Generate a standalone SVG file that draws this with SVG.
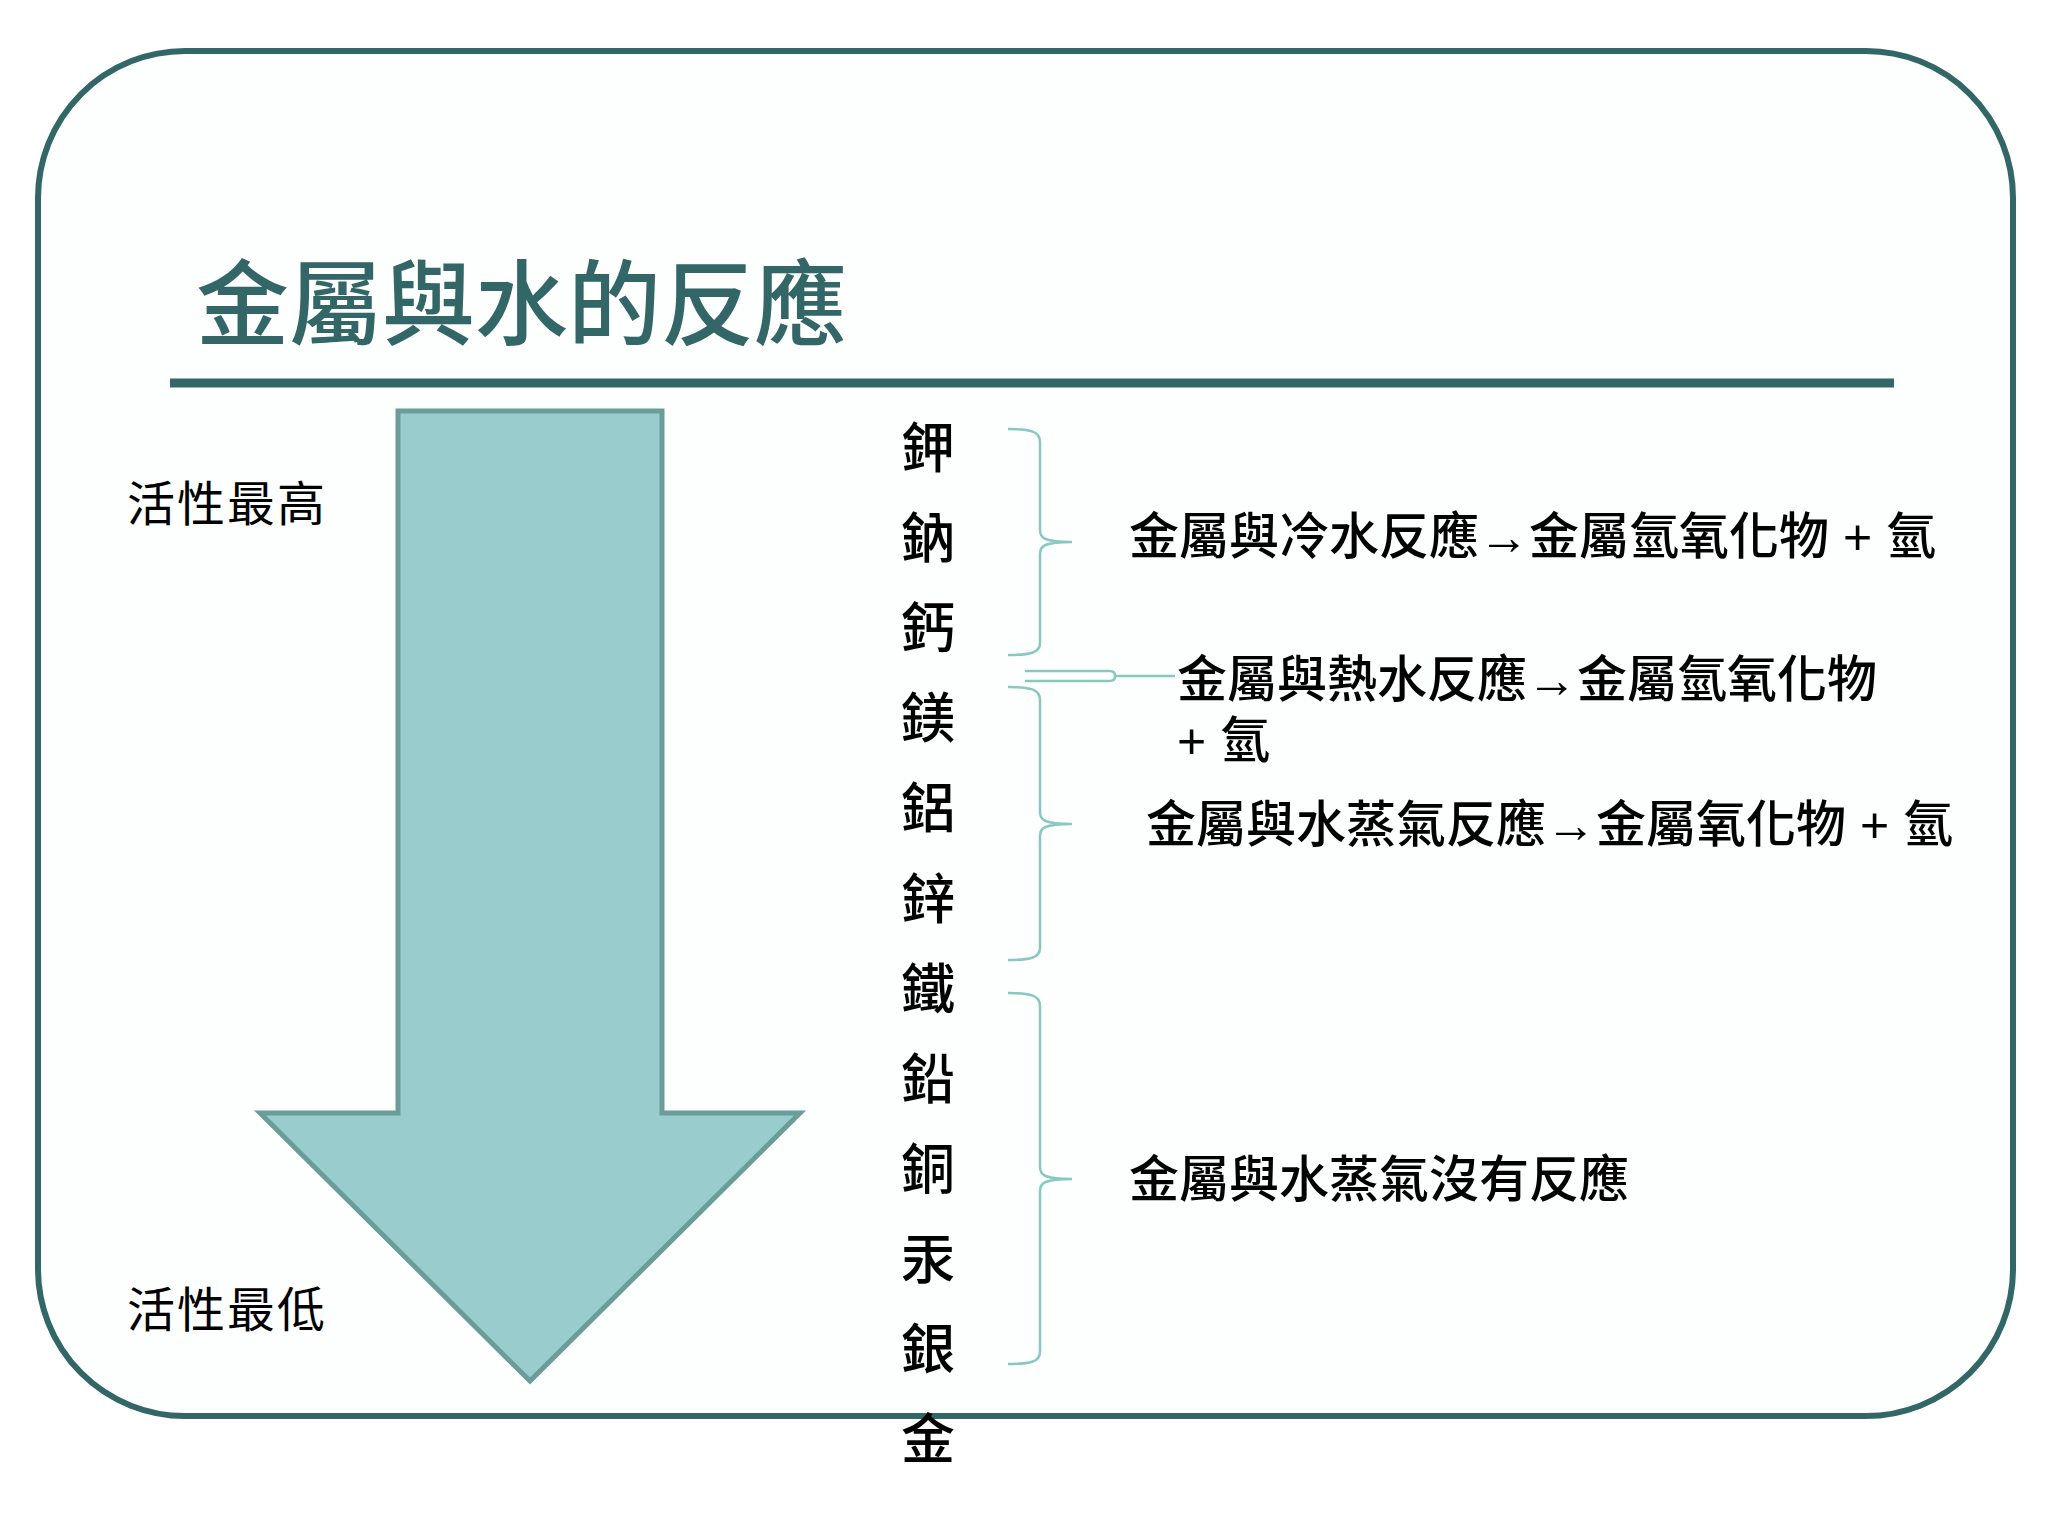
<svg xmlns="http://www.w3.org/2000/svg" width="2048" height="1536" viewBox="0 0 2048 1536">
  <defs>
    <style>
      .frame { fill: #fdfefe; stroke: #336666; stroke-width: 6; }
      .rule { stroke: #336666; stroke-width: 9; }
      .title { font-family: "Noto Sans CJK TC", "Noto Sans CJK SC", sans-serif; font-size: 93px; font-weight: 500; fill: #336666; }
      .label { font-family: "Noto Sans CJK TC", sans-serif; font-size: 48px; fill: #000; letter-spacing: 2px; }
      .metal { font-family: "Noto Sans CJK TC", sans-serif; font-size: 54px; font-weight: 500; fill: #000; text-anchor: middle; }
      .desc { font-family: "Liberation Sans", "Noto Sans CJK TC", sans-serif; font-size: 50px; font-weight: 500; fill: #000; }
      .brace { fill: none; stroke: #88c8c0; stroke-width: 2.5; }
      .arrow { fill: #99cccc; stroke: #6a9c99; stroke-width: 5; }
    </style>
  </defs>
  <rect width="2048" height="1536" fill="#ffffff"/>
  <g id="frame">
    <rect class="frame" x="38" y="51" width="1975" height="1365" rx="147" ry="147"/>
  </g>
  <g id="title">
    <text class="title" x="196" y="338">金屬與水的反應</text>
    <line class="rule" x1="170" y1="383" x2="1894" y2="383"/>
  </g>
  <g id="activity-arrow">
    <polygon class="arrow" points="398,411 662,411 662,1113 800,1113 530,1381 260,1113 398,1113"/>
  </g>
  <g id="label-high">
    <text class="label" x="127" y="521">活性最高</text>
  </g>
  <g id="label-low">
    <text class="label" x="127" y="1327">活性最低</text>
  </g>
  <g id="metals">
    <text class="metal" x="928" y="468">鉀</text>
    <text class="metal" x="928" y="558.1">鈉</text>
    <text class="metal" x="928" y="648.2">鈣</text>
    <text class="metal" x="928" y="738.3">鎂</text>
    <text class="metal" x="928" y="828.4">鋁</text>
    <text class="metal" x="928" y="918.5">鋅</text>
    <text class="metal" x="928" y="1008.6">鐵</text>
    <text class="metal" x="928" y="1098.7">鉛</text>
    <text class="metal" x="928" y="1188.8">銅</text>
    <text class="metal" x="928" y="1278.9">汞</text>
    <text class="metal" x="928" y="1369">銀</text>
    <text class="metal" x="928" y="1459.1">金</text>
  </g>
  <g id="connectors">
    <path class="brace" d="M1008,429 C1030,429 1040,431 1040,442 L1040,530 C1040,538 1044,542 1072,542 C1044,542 1040,546 1040,554 L1040,643 C1040,653 1030,655 1008,655"/>
    <path class="brace" d="M1025,671 L1110,671 Q1115,671 1115,676 L1175,676 M1025,681 L1110,681 Q1115,681 1115,676"/>
    <path class="brace" d="M1008,687 C1030,687 1040,689 1040,700 L1040,812 C1040,820 1044,824 1072,824 C1044,824 1040,828 1040,836 L1040,948 C1040,958 1030,960 1008,960"/>
    <path class="brace" d="M1008,993 C1030,993 1040,995 1040,1006 L1040,1167 C1040,1175 1044,1179 1072,1179 C1044,1179 1040,1183 1040,1191 L1040,1352 C1040,1362 1030,1364 1008,1364"/>
  </g>
  <g id="desc-cold">
    <text class="desc" x="1129" y="554">金屬與冷水反應→金屬氫氧化物 + 氫</text>
  </g>
  <g id="desc-hot">
    <text class="desc" x="1177" y="697">金屬與熱水反應→金屬氫氧化物</text>
    <text class="desc" x="1177" y="758">+ 氫</text>
  </g>
  <g id="desc-steam">
    <text class="desc" x="1146" y="842">金屬與水蒸氣反應→金屬氧化物 + 氫</text>
  </g>
  <g id="desc-none">
    <text class="desc" x="1129" y="1197">金屬與水蒸氣沒有反應</text>
  </g>
</svg>
